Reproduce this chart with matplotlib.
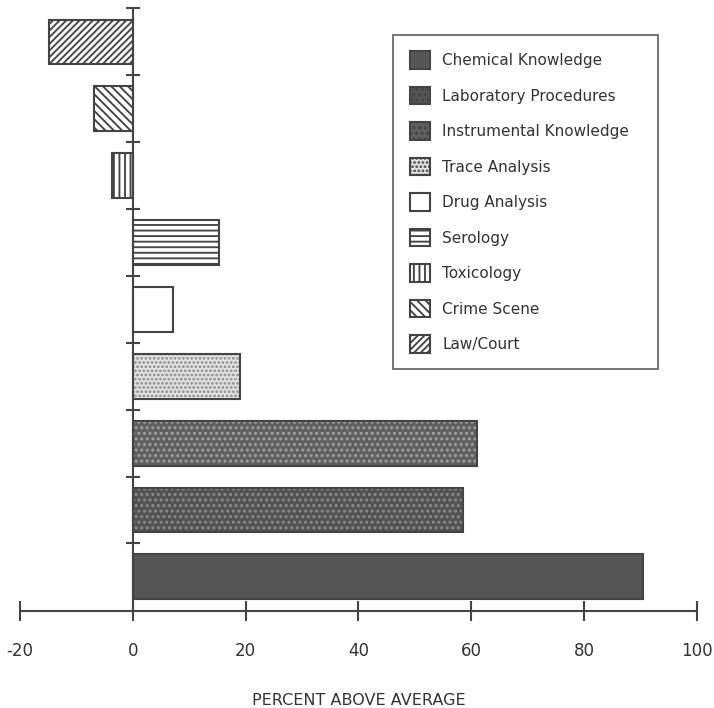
import matplotlib
matplotlib.use("Agg")
import matplotlib.pyplot as plt
from matplotlib.patches import Patch

# categories, bottom bar first
categories = ["Chemical Knowledge", "Laboratory Procedures", "Instrumental Knowledge",
              "Trace Analysis", "Drug Analysis", "Serology", "Toxicology",
              "Crime Scene", "Law/Court"]
values = [90.5, 58.5, 61.0, 19.0, 7.2, 15.2, -3.7, -6.9, -14.9]

# fill style per category
faces = ["#555555", "#535353", "#606060", "#e4e4e4", "white", "white", "white", "white", "white"]
hatch_cols = ["#555555", "#8c8c8c", "#a2a2a2", "#8a8a8a", "#444444", "#444444", "#444444", "#444444", "#444444"]
hatches = [None, "...", "...", "....", None, "---", "|||", "\\\\\\\\", "/////"]
xticks = [-20, 0, 20, 40, 60, 80, 100]

plt.rcParams["font.family"] = "DejaVu Sans"
plt.rcParams["hatch.linewidth"] = 1.35

fig = plt.figure(figsize=(7.14, 7.08), dpi=100)
ax = fig.add_axes([0.028, 0.137, 0.948, 0.851])

edge = "#444444"
ypos = list(range(len(categories)))
handles = []
for i in ypos:
    ax.barh(i, values[i], height=0.67, color=faces[i], edgecolor=hatch_cols[i],
            hatch=hatches[i], linewidth=0)
    ax.barh(i, values[i], height=0.67, fill=False, edgecolor=edge, linewidth=1.5)
    handles.append(Patch(facecolor=faces[i], edgecolor=edge, hatch=hatches[i], linewidth=1.5))

ax.set_xlim(-20, 100)
ax.set_ylim(-0.51, 8.5)

for s in ["top", "right"]:
    ax.spines[s].set_visible(False)
ax.spines["left"].set_position(("data", 0))
ax.spines["left"].set_color(edge)
ax.spines["left"].set_linewidth(1.5)
ax.spines["bottom"].set_color(edge)
ax.spines["bottom"].set_linewidth(1.5)

ax.set_yticks([i + 0.5 for i in ypos])
ax.set_yticklabels([])
ax.tick_params(axis="y", direction="inout", length=10, width=1.5, color=edge)
ax.set_xticks(xticks)
ax.set_xticklabels([str(t) for t in xticks], fontsize=12, color="#333333")
ax.tick_params(axis="x", direction="inout", length=14, width=1.5, color=edge, pad=15)
ax.set_xlabel("PERCENT ABOVE AVERAGE", fontsize=11.5, color="#333333", labelpad=24)

leg = ax.legend(handles, categories, loc="upper left", bbox_to_anchor=(0.55, 0.951, 0.371, 0.0),
                bbox_transform=fig.transFigure, mode="expand", fontsize=11, frameon=True,
                fancybox=False, handlelength=1.35, handleheight=1.35, labelspacing=1.2,
                handletextpad=0.8, borderpad=1.1, borderaxespad=0)
leg.get_frame().set_edgecolor(edge)
leg.get_frame().set_linewidth(1.3)
for t in leg.get_texts():
    t.set_color("#333333")

fig.savefig("out.png", dpi=100)
